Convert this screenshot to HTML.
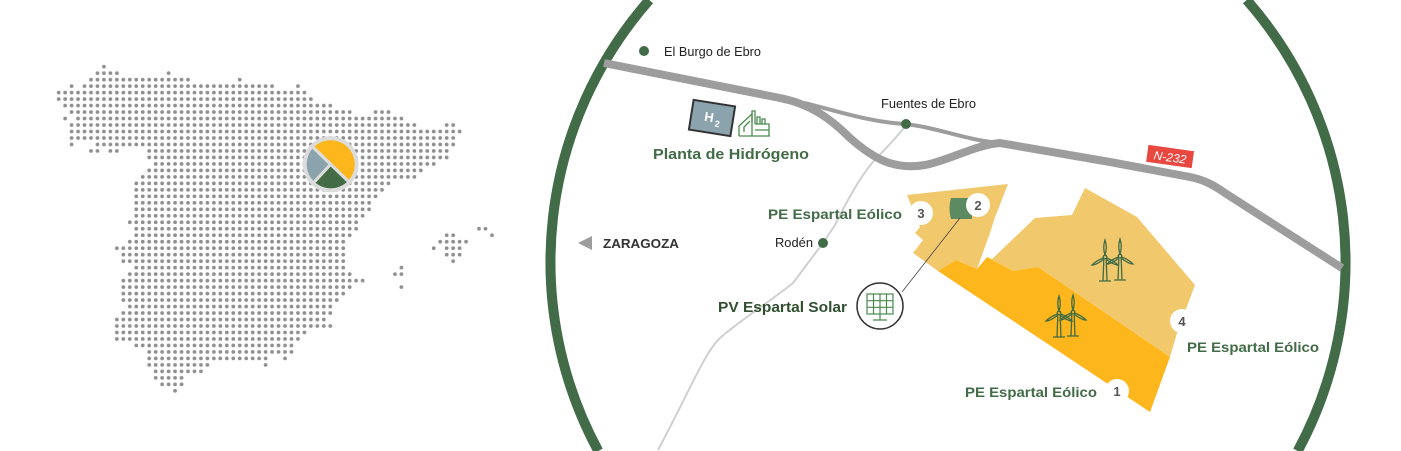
<!DOCTYPE html>
<html><head><meta charset="utf-8"><style>
html,body{margin:0;padding:0;background:#fff;width:1401px;height:451px;overflow:hidden;}
svg{display:block;}
text{font-family:"Liberation Sans",sans-serif;}
</style></head><body>
<svg width="1401" height="451" viewBox="0 0 1401 451" xmlns="http://www.w3.org/2000/svg" style="overflow:hidden">
<defs>
<pattern id="dots" patternUnits="userSpaceOnUse" x="0" y="0" width="1" height="1">
<circle cx="0.5" cy="0.5" r="0.29" fill="#8f8f8f"/>
</pattern>
<g id="turb" fill="none" stroke="#3f6b45" stroke-width="1.3">
<circle cx="0" cy="0" r="1.8"/>
<path d="M-1.2,3 L-2,24 M1.2,3 L2,24 M-6,24 L6,24"/>
<path d="M0,-2 C-2,-8 -1,-14 0,-17 C1,-14 2,-8 0,-2Z"/>
<path d="M1.6,1 C7,3 11,6 13,8 C10,8 6,6 1,2Z"/>
<path d="M-1.6,1 C-7,3 -11,6 -13,8 C-10,8 -6,6 -1,2Z"/>
</g>
</defs>

<g transform="translate(55.43,63.43) scale(6.467,6.483)" fill="url(#dots)">
<rect x="7" y="0" width="1" height="1"/>
<rect x="6" y="1" width="4" height="1"/><rect x="17" y="1" width="1" height="1"/>
<rect x="5" y="2" width="16" height="1"/><rect x="28" y="2" width="1" height="1"/>
<rect x="2" y="3" width="1" height="1"/><rect x="4" y="3" width="30" height="1"/><rect x="37" y="3" width="1" height="1"/>
<rect x="0" y="4" width="39" height="1"/>
<rect x="0" y="5" width="40" height="1"/>
<rect x="1" y="6" width="42" height="1"/>
<rect x="2" y="7" width="44" height="1"/><rect x="49" y="7" width="3" height="1"/>
<rect x="1" y="8" width="1" height="1"/><rect x="3" y="8" width="51" height="1"/>
<rect x="2" y="9" width="54" height="1"/><rect x="60" y="9" width="2" height="1"/>
<rect x="2" y="10" width="61" height="1"/>
<rect x="2" y="11" width="60" height="1"/>
<rect x="2" y="12" width="1" height="1"/><rect x="6" y="12" width="56" height="1"/>
<rect x="5" y="13" width="2" height="1"/><rect x="8" y="13" width="2" height="1"/><rect x="14" y="13" width="47" height="1"/>
<rect x="14" y="14" width="47" height="1"/>
<rect x="15" y="15" width="44" height="1"/>
<rect x="14" y="16" width="43" height="1"/>
<rect x="13" y="17" width="43" height="1"/>
<rect x="12" y="18" width="40" height="1"/>
<rect x="12" y="19" width="39" height="1"/>
<rect x="12" y="20" width="38" height="1"/>
<rect x="12" y="21" width="37" height="1"/>
<rect x="12" y="22" width="37" height="1"/>
<rect x="12" y="23" width="36" height="1"/>
<rect x="11" y="24" width="36" height="1"/>
<rect x="12" y="25" width="35" height="1"/><rect x="65" y="25" width="2" height="1"/>
<rect x="12" y="26" width="34" height="1"/><rect x="60" y="26" width="2" height="1"/><rect x="67" y="26" width="1" height="1"/>
<rect x="11" y="27" width="34" height="1"/><rect x="59" y="27" width="5" height="1"/>
<rect x="9" y="28" width="36" height="1"/><rect x="58" y="28" width="1" height="1"/><rect x="60" y="28" width="3" height="1"/>
<rect x="10" y="29" width="35" height="1"/><rect x="60" y="29" width="3" height="1"/>
<rect x="10" y="30" width="35" height="1"/><rect x="61" y="30" width="1" height="1"/>
<rect x="12" y="31" width="33" height="1"/><rect x="53" y="31" width="1" height="1"/>
<rect x="11" y="32" width="35" height="1"/><rect x="52" y="32" width="2" height="1"/>
<rect x="10" y="33" width="38" height="1"/>
<rect x="10" y="34" width="36" height="1"/><rect x="53" y="34" width="1" height="1"/>
<rect x="10" y="35" width="35" height="1"/>
<rect x="10" y="36" width="34" height="1"/>
<rect x="11" y="37" width="32" height="1"/>
<rect x="10" y="38" width="33" height="1"/>
<rect x="9" y="39" width="33" height="1"/>
<rect x="9" y="40" width="34" height="1"/>
<rect x="9" y="41" width="30" height="1"/>
<rect x="9" y="42" width="29" height="1"/>
<rect x="12" y="43" width="25" height="1"/>
<rect x="14" y="44" width="23" height="1"/>
<rect x="14" y="45" width="19" height="1"/><rect x="35" y="45" width="1" height="1"/>
<rect x="14" y="46" width="10" height="1"/><rect x="32" y="46" width="1" height="1"/>
<rect x="15" y="47" width="8" height="1"/>
<rect x="15" y="48" width="5" height="1"/>
<rect x="16" y="49" width="4" height="1"/>
<rect x="18" y="50" width="1" height="1"/>
</g>

<circle cx="330.7" cy="164.3" r="28" fill="#dcdcdc"/>
<path d="M330.7,164.3 L313.4,147.6 A24 24 0 1 1 348,181 Z" fill="#fdb71c"/>
<path d="M330.7,164.3 L348,181 A24 24 0 0 1 314.3,181.8 Z" fill="#436b46"/>
<path d="M330.7,164.3 L314.3,181.8 A24 24 0 0 1 313.4,147.6 Z" fill="#8aa3ad"/>
<path d="M330.7,164.3 L311,145.3 M330.7,164.3 L350,183 M330.7,164.3 L312.5,183.8" stroke="#dcdcdc" stroke-width="3.2"/>

<path d="M649.3,0 A397 397 0 0 0 598.3,451 M1246.7,0 A397 397 0 0 1 1297.7,451" fill="none" stroke="#426b47" stroke-width="10"/>

<polygon points="907,195 1008,184 994,220 990,233 977,269 956,260 938,271 913,253 923,240 915,233 920,227" fill="#f2c86d"/>
<polygon points="992,259 1035,218 1072,215 1085,188 1137,217 1195,285 1177,333 1170,357 1038,267 1013,271 987,257" fill="#f2c86d"/>
<polygon points="938,271 956,260 977,269 987,257 1013,271 1038,267 1170,357 1150,412 1117,390" fill="#fdb71c"/>

<path d="M907,124 C895,140 882,152 872,163 C858,180 845,205 835,225 L823,243 L793,283 C772,300 738,322 720,338 C705,352 690,390 658,450" fill="none" stroke="#d0d0d0" stroke-width="2"/>

<path d="M805,103 C840,112 870,122 905,124 C940,128 965,140 1000,143" fill="none" stroke="#9d9d9d" stroke-width="4"/>
<path d="M604,63 L780,98 C810,104 830,118 850,138 C875,160 895,170 925,165 C950,160 975,145 1000,143 L1110,162 L1190,177 C1205,180 1215,186 1225,193 L1342,268" fill="none" stroke="#9d9d9d" stroke-width="8"/>

<g transform="translate(1170,157) rotate(8)">
<rect x="-23" y="-9" width="46" height="17" fill="#e8483f"/>
<text x="0" y="4.5" text-anchor="middle" font-size="12" font-style="italic" fill="#fff">N-232</text>
</g>

<circle cx="644" cy="51" r="5" fill="#426b47"/>
<text x="664" y="56" font-size="13" fill="#222" textLength="97" lengthAdjust="spacingAndGlyphs">El Burgo de Ebro</text>
<circle cx="906" cy="124" r="5" fill="#426b47"/>
<text x="881" y="108" font-size="13" fill="#222" textLength="95" lengthAdjust="spacingAndGlyphs">Fuentes de Ebro</text>
<circle cx="823" cy="243" r="5" fill="#426b47"/>
<text x="775" y="247" font-size="13" fill="#222" textLength="38" lengthAdjust="spacingAndGlyphs">Rodén</text>
<polygon points="578,243 592,236 592,250" fill="#9d9d9d"/>
<text x="603" y="248" font-size="13" font-weight="bold" fill="#333" textLength="76" lengthAdjust="spacingAndGlyphs">ZARAGOZA</text>

<g transform="translate(712,118) rotate(9)">
<rect x="-21" y="-15" width="42" height="30" fill="#8aa3ad" stroke="#333" stroke-width="2"/>
<text x="-3" y="4" text-anchor="middle" font-size="13" font-weight="bold" fill="#fff">H</text>
<text x="6" y="8" text-anchor="middle" font-size="9" font-weight="bold" fill="#fff">2</text>
</g>
<g fill="none" stroke="#4a8a4f" stroke-width="1.3">
<path d="M739,136 L770,136 M739,136 L739,126 L752,114 L752,136 M744,132 L744,127 L750,121"/>
<path d="M752,122 L752,111 L755,111 L755,124 M757,124 L757,117 L760,117 L760,124 M762,124 L762,119 L765,119 L765,124 L769,124 L769,136 M755,124 L769,124 M755,130 L769,130"/>
</g>
<text x="653" y="159" font-size="15" font-weight="bold" fill="#426b47" textLength="156" lengthAdjust="spacingAndGlyphs">Planta de Hidrógeno</text>

<text x="768" y="219" font-size="14" font-weight="bold" fill="#426b47" textLength="134" lengthAdjust="spacingAndGlyphs">PE Espartal Eólico</text>
<circle cx="921" cy="213" r="12" fill="#fff"/>
<text x="921" y="218" text-anchor="middle" font-size="13" font-weight="bold" fill="#555">3</text>
<path d="M951,198 L972,198 L972,219 L951,219 C949,212 949,205 951,198Z" fill="#5d8a60"/>
<circle cx="978" cy="205" r="12" fill="#fff"/>
<text x="978" y="210" text-anchor="middle" font-size="13" font-weight="bold" fill="#555">2</text>
<line x1="960" y1="218" x2="902" y2="292" stroke="#444" stroke-width="0.8"/>
<circle cx="880" cy="306" r="23" fill="#fff" stroke="#333" stroke-width="1.5"/>
<g fill="none" stroke="#4a8a4f" stroke-width="1.2">
<rect x="867" y="294" width="26" height="20"/>
<path d="M873.5,294 L873.5,314 M880,294 L880,314 M886.5,294 L886.5,314 M867,300.7 L893,300.7 M867,307.3 L893,307.3 M880,314 L880,320 M873,320 L887,320"/>
</g>
<text x="718" y="312" font-size="15" font-weight="bold" fill="#2f4f2f" textLength="129" lengthAdjust="spacingAndGlyphs">PV Espartal Solar</text>

<use href="#turb" x="1105" y="257"/>
<use href="#turb" x="1120" y="256"/>
<use href="#turb" x="1059" y="313"/>
<use href="#turb" x="1073" y="312"/>

<circle cx="1182" cy="321" r="12" fill="#fff"/>
<text x="1182" y="326" text-anchor="middle" font-size="13" font-weight="bold" fill="#555">4</text>
<text x="1187" y="352" font-size="14" font-weight="bold" fill="#426b47" textLength="132" lengthAdjust="spacingAndGlyphs">PE Espartal Eólico</text>
<circle cx="1117" cy="391" r="12" fill="#fff"/>
<text x="1117" y="396" text-anchor="middle" font-size="13" font-weight="bold" fill="#555">1</text>
<text x="965" y="397" font-size="14" font-weight="bold" fill="#426b47" textLength="132" lengthAdjust="spacingAndGlyphs">PE Espartal Eólico</text>
</svg>
</body></html>
